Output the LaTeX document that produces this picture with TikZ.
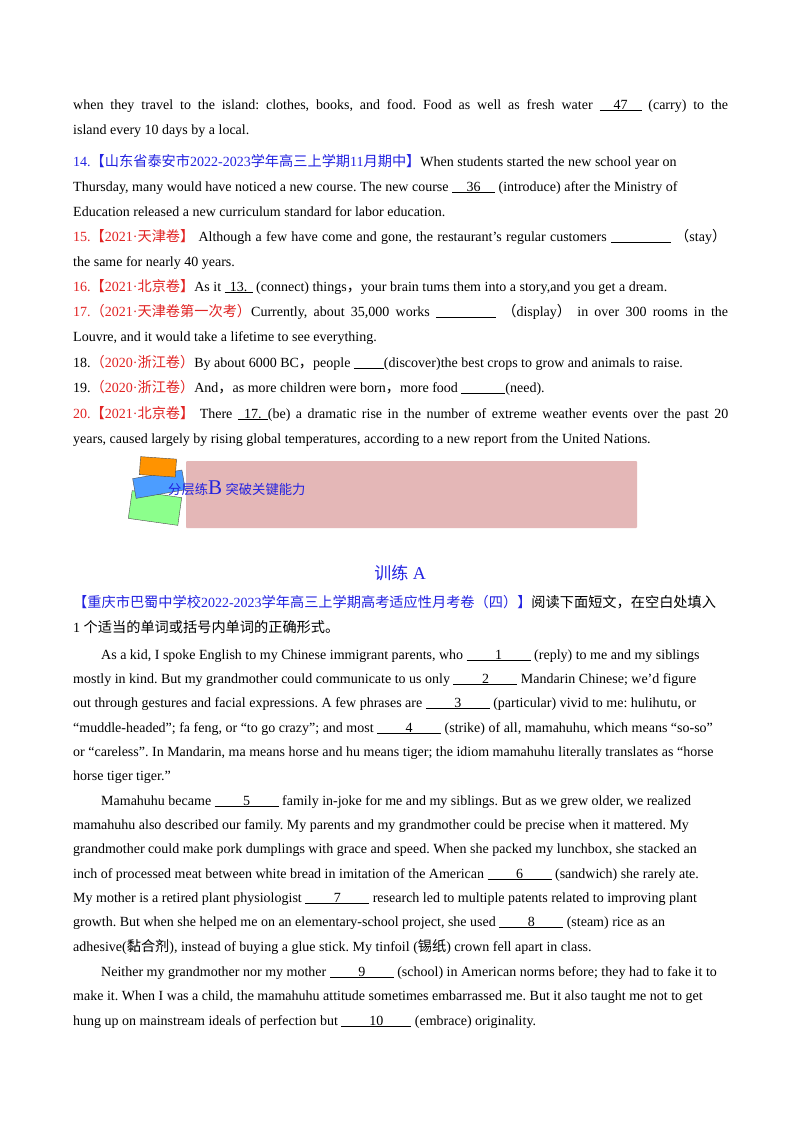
\documentclass[tikz,border=0pt]{standalone}
\usepackage{fontspec}
\setmainfont{Liberation Serif}
\newfontfamily\cjk{Noto Sans CJK SC}
\newcommand{\zh}[1]{{\cjk\fontsize{14.2}{15}\selectfont #1}}
\newcommand{\bl}[2]{\underline{\makebox[#1pt]{#2}}}
\definecolor{tb}{RGB}{35,35,225}
\definecolor{tr}{RGB}{225,35,35}
\definecolor{band}{RGB}{228,183,183}
\tikzset{ln/.style={anchor=base west,inner sep=0pt,font=\fontsize{14}{15}\selectfont\frenchspacing}}
\newcommand{\Ln}[4][]{\node[ln,#1] (#2) at (#3) {#4};}
\begin{document}
\begin{tikzpicture}[x=1pt,y=-1pt]
\useasboundingbox (0,0) rectangle (800,1132);
\fill[white] (0,0) rectangle (800,1132);
\Ln{a1}{73,109}{\makebox[655pt][s]{when they travel to the island: clothes, books, and food. Food as well as fresh water \bl{42}{47} (carry) to the}}
\Ln{a2}{73,134}{island every 10 days by a local.}
\Ln{a3}{73,166}{\textcolor{tb}{14.\zh{【山东省泰安市}2022-2023\zh{学年高三上学期}11\zh{月期中】}}When students started the new school year on}
\Ln{a4}{73,191}{Thursday, many would have noticed a new course. The new course \bl{43}{36} (introduce) after the Ministry of}
\Ln{a5}{73,216}{Education released a new curriculum standard for labor education.}
\Ln{a6}{73,241}{\makebox[653pt][s]{\textcolor{tr}{15.\zh{【}2021·\zh{天津卷】}} Although a few have come and gone, the restaurant's regular customers \bl{60}{} \zh{（}stay\zh{）}}}
\Ln{a7}{73,266}{the same for nearly 40 years.}
\Ln{a8}{73,291}{\textcolor{tr}{16.\zh{【}2021·\zh{北京卷】}}As it \bl{28}{13.} (connect) things\zh{，}your brain tums them into a story,and you get a dream.}
\Ln{a9}{73,316}{\makebox[655pt][s]{\textcolor{tr}{17.\zh{（}2021·\zh{天津卷第一次考）}}Currently, about 35,000 works \bl{60}{} \zh{（}display\zh{）} in over 300 rooms in the}}
\Ln{a10}{73,341}{Louvre, and it would take a lifetime to see everything.}
\Ln{a11}{73,367}{18.\textcolor{tr}{\zh{（}2020·\zh{浙江卷）}}By about 6000 BC\zh{，}people \bl{30}{}(discover)the best crops to grow and animals to raise.}
\Ln{a12}{73,392}{19.\textcolor{tr}{\zh{（}2020·\zh{浙江卷）}}And\zh{，}as more children were born\zh{，}more food \bl{44}{}(need).}
\Ln{a13}{73,418}{\makebox[655pt][s]{\textcolor{tr}{20.\zh{【}2021·\zh{北京卷】}} There \bl{30}{17.}(be) a dramatic rise in the number of extreme weather events over the past 20}}
\Ln{a14}{73,443}{years, caused largely by rising global temperatures, according to a new report from the United Nations.}
% banner
\fill[band,rounded corners=1pt] (186,461) rectangle (637,528);
% books
\fill[green!45!white,draw=black!70,rotate around={-8:(155,508)}] (130,494) rectangle (180,522);
\fill[blue!55!cyan!70!white,draw=black!70,rotate around={10:(160,484)}] (134,474) rectangle (184,494);
\fill[orange!85!yellow,draw=black!70,rotate around={-4:(160,466)}] (140,458) rectangle (176,476);
\node[ln,text=tb] (bt) at (168,494) {\zh{\fontsize{13.3}{14}\selectfont 分层练}{\fontsize{21}{21}\selectfont B} \zh{\fontsize{13.3}{14}\selectfont 突破关键能力}};
\node[anchor=base,inner sep=0pt,text=tb,font=\fontsize{18}{18}\selectfont] (title) at (400,579) {\zh{\fontsize{17}{18}\selectfont 训练} A};
\Ln{b1}{73,607}{\textcolor{tb}{\zh{【重庆市巴蜀中学校}2022-2023\zh{学年高三上学期高考适应性月考卷（四）】}}\zh{阅读下面短文，在空白处填入}}
\Ln{b2}{73,632}{1 \zh{个适当的单词或括号内单词的正确形式。}}
\Ln{c1}{101,659}{As a kid, I spoke English to my Chinese immigrant parents, who \bl{64}{1} (reply) to me and my siblings}
\Ln{c2}{73,683}{mostly in kind. But my grandmother could communicate to us only \bl{64}{2} Mandarin Chinese; we'd figure}
\Ln{c3}{73,707}{out through gestures and facial expressions. A few phrases are \bl{64}{3} (particular) vivid to me: hulihutu, or}
\Ln{c4}{73,732}{``muddle-headed''; fa feng, or ``to go crazy''; and most \bl{64}{4} (strike) of all, mamahuhu, which means ``so-so''}
\Ln{c5}{73,756}{or ``careless''. In Mandarin, ma means horse and hu means tiger; the idiom mamahuhu literally translates as ``horse}
\Ln{c6}{73,780}{horse tiger tiger.''}
\Ln{d1}{101,805}{Mamahuhu became \bl{64}{5} family in-joke for me and my siblings. But as we grew older, we realized}
\Ln{d2}{73,829}{mamahuhu also described our family. My parents and my grandmother could be precise when it mattered. My}
\Ln{d3}{73,853}{grandmother could make pork dumplings with grace and speed. When she packed my lunchbox, she stacked an}
\Ln{d4}{73,878}{inch of processed meat between white bread in imitation of the American \bl{64}{6} (sandwich) she rarely ate.}
\Ln{d5}{73,902}{My mother is a retired plant physiologist \bl{64}{7} research led to multiple patents related to improving plant}
\Ln{d6}{73,926}{growth. But when she helped me on an elementary-school project, she used \bl{64}{8} (steam) rice as an}
\Ln{d7}{73,951}{adhesive(\zh{黏合剂}), instead of buying a glue stick. My tinfoil (\zh{锡纸}) crown fell apart in class.}
\Ln{e1}{101,976}{Neither my grandmother nor my mother \bl{64}{9} (school) in American norms before; they had to fake it to}
\Ln{e2}{73,1000}{make it. When I was a child, the mamahuhu attitude sometimes embarrassed me. But it also taught me not to get}
\Ln{e3}{73,1025}{hung up on mainstream ideals of perfection but \bl{70}{10} (embrace) originality.}
\end{tikzpicture}
\end{document}
